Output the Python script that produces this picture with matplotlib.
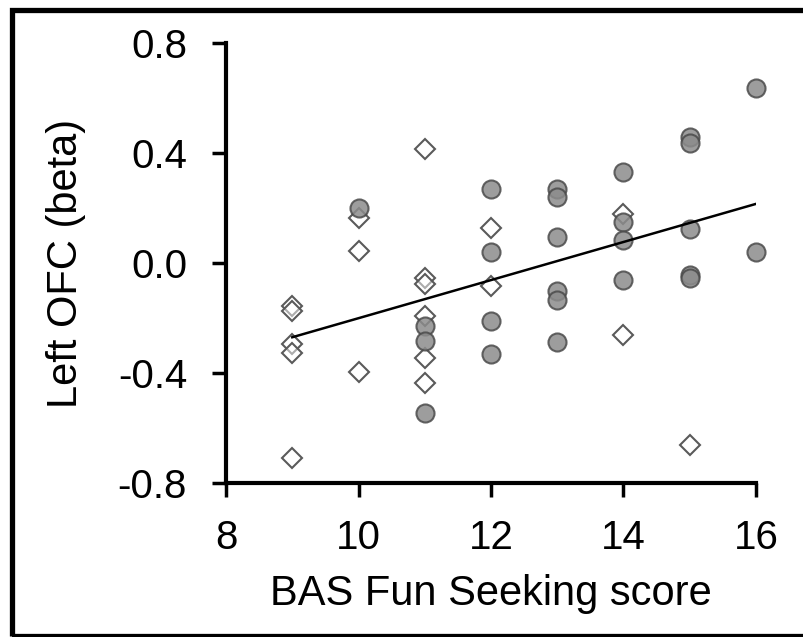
import matplotlib
matplotlib.use("Agg")
import matplotlib.pyplot as plt
from matplotlib.patches import Rectangle

plt.rcParams['font.family'] = ['Liberation Sans', 'DejaVu Sans']

# filled circles
circ_x = [10, 11, 11, 11, 12, 12, 12, 12, 13, 13, 13, 13, 13, 13,
          14, 14, 14, 14, 15, 15, 15, 15, 15, 16, 16]
circ_y = [0.20, -0.228, -0.282, -0.546, 0.268, 0.04, -0.21, -0.33,
          0.27, 0.24, 0.096, -0.102, -0.135, -0.288,
          0.33, 0.15, 0.084, -0.06,
          0.458, 0.438, 0.122, -0.042, -0.054, 0.636, 0.04]

# open diamonds
diam_x = [9, 9, 9, 9, 9, 10, 10, 10, 11, 11, 11, 11, 11, 11, 12, 12, 14, 14, 15]
diam_y = [-0.156, -0.174, -0.294, -0.327, -0.708,
          0.162, 0.042, -0.396,
          0.414, -0.055, -0.075, -0.192, -0.346, -0.435,
          0.127, -0.083, 0.177, -0.26, -0.66]

# fit line
fit_x = [9, 16]
fit_y = [-0.27, 0.215]

xticks = [8, 10, 12, 14, 16]
yticks = [-0.8, -0.4, 0.0, 0.4, 0.8]

fig = plt.figure(figsize=(8.04, 6.37), dpi=100)
ax = fig.add_axes([226/804, 1 - 483/637, 530/804, 440/637])

ax.plot(diam_x, diam_y, linestyle='none', marker='D', markersize=10,
        markerfacecolor=(1, 1, 1, 0.5), markeredgecolor='#5a5a5a',
        markeredgewidth=1.5, clip_on=False, zorder=2)
ax.plot(circ_x, circ_y, linestyle='none', marker='o', markersize=13,
        markerfacecolor='#8c8c8c', markeredgecolor='#4a4a4a',
        markeredgewidth=1.5, alpha=0.85, clip_on=False, zorder=3)
ax.plot(fit_x, fit_y, color='black', linewidth=1.8, zorder=4)

ax.set_xlim(8, 16)
ax.set_ylim(-0.8, 0.8)
ax.set_xticks(xticks)
ax.set_yticks(yticks)
ax.set_xticklabels([str(t) for t in xticks])
ax.set_yticklabels(['%.1f' % t for t in yticks])

for s in ['top', 'right']:
    ax.spines[s].set_visible(False)
for s in ['left', 'bottom']:
    ax.spines[s].set_linewidth(3)
ax.tick_params(direction='out', length=10, width=2.5, labelsize=29)
ax.tick_params(axis='y', pad=18)
ax.tick_params(axis='x', pad=16)

ax.set_xlabel('BAS Fun Seeking score', fontsize=30, labelpad=12)
ax.set_ylabel('Left OFC (beta)', fontsize=30, labelpad=23)

# black frame round the figure
fig.add_artist(Rectangle((12.5/804, 1.5/637), 1.0, 626/637,
                         transform=fig.transFigure, fill=False,
                         edgecolor='black', linewidth=3.8, clip_on=False))

fig.savefig('out.png', dpi=100)
